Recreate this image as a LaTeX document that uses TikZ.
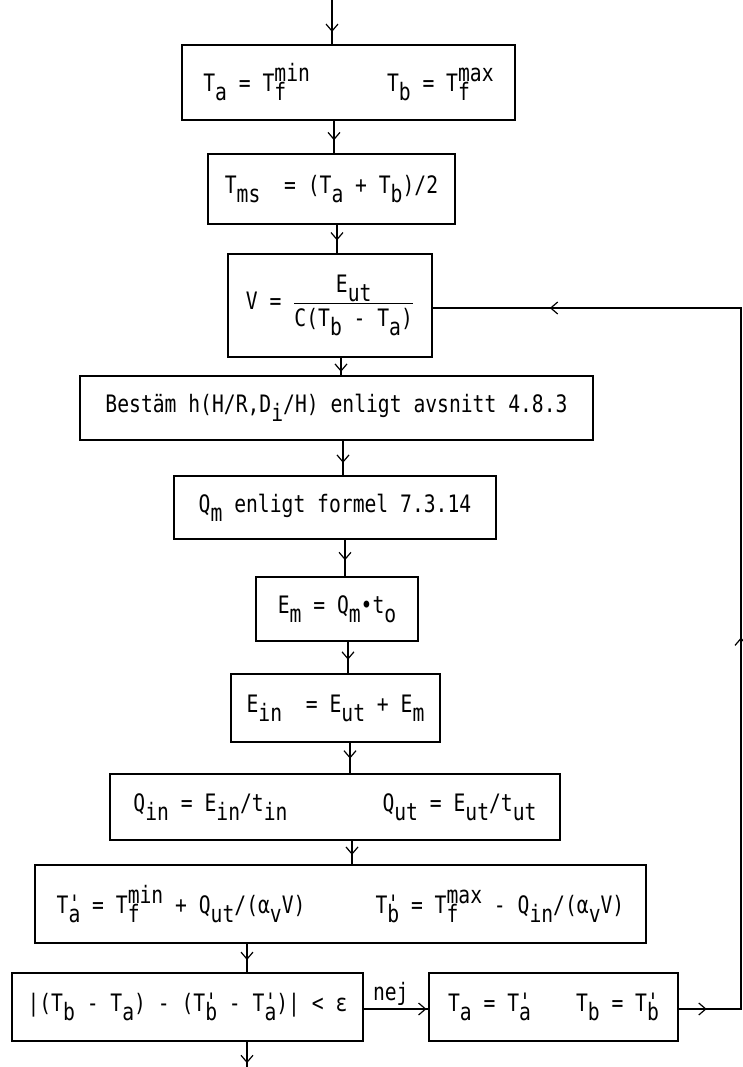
\documentclass[tikz,border=0pt]{standalone}
\usepackage{fontspec}
\newfontfamily\tw[FakeStretch=0.82]{DejaVu Sans Mono}
\usetikzlibrary{arrows.meta,decorations.markings}
\newcommand\lo[1]{\raisebox{-9pt}{#1}}
\newcommand\hi[1]{\raisebox{10pt}{#1}}
\newcommand\lohi[2]{\makebox[0pt][l]{\lo{#1}}\hi{#2}}
\newcommand\pr[1]{\makebox[0pt][l]{\lo{#1}}\raisebox{1pt}{'}}
\begin{document}
\begin{tikzpicture}[x=1pt,y=-1pt,
  box/.style={draw,line width=1.2pt,inner sep=0pt,align=center},
  lnk/.style={line width=1.2pt,line cap=rect},
  midarr/.style={decoration={markings,mark=at position #1 with {\arrow{Straight Barb[length=7pt,width=12pt]}}},postaction={decorate}},
  every node/.style={font=\tw\fontsize{24}{28}\selectfont}
]
\useasboundingbox (0,0) rectangle (742,1067);
% boxes
\node[box,minimum width=333pt,minimum height=75pt] (b1) at (348.5,82.5)
  {T\lo{a} = T\lohi{f}{min}\hspace{77pt}T\lo{b} = T\lohi{f}{max}};
\node[box,minimum width=247pt,minimum height=70pt] (b2) at (331.5,189)
  {T\lo{ms}\ \ = (T\lo{a} + T\lo{b})/2};
\node[box,minimum width=204pt,minimum height=103pt] (b3) at (330,305.5)
  {V = $\displaystyle\frac{\hbox{E\lo{ut}}}{\hbox{C(T\lo{b} - T\lo{a})}}$};
\node[box,minimum width=513pt,minimum height=64pt] (b4) at (336.5,408)
  {Bestäm h(H/R,D\lo{i}/H) enligt avsnitt 4.8.3};
\node[box,minimum width=322pt,minimum height=63pt] (b5) at (335,507.5)
  {Q\lo{m} enligt formel 7.3.14};
\node[box,minimum width=162pt,minimum height=64pt] (b6) at (337,609)
  {E\lo{m} = Q\lo{m}•t\lo{o}};
\node[box,minimum width=209pt,minimum height=68pt] (b7) at (335.5,708)
  {E\lo{in}\ \ = E\lo{ut} + E\lo{m}};
\node[box,minimum width=450pt,minimum height=66pt] (b8) at (335,807)
  {Q\lo{in} = E\lo{in}/t\lo{in}\hspace{95pt}Q\lo{ut} = E\lo{ut}/t\lo{ut}};
\node[box,minimum width=611pt,minimum height=78pt] (b9) at (340.5,904)
  {T\pr{a} = T\lohi{f}{min} + Q\lo{ut}/(α\lo{v}V)\hspace{70pt}T\pr{b} = T\lohi{f}{max} - Q\lo{in}/(α\lo{v}V)};
\node[box,minimum width=351pt,minimum height=68pt] (b10) at (187.5,1007)
  {|(T\lo{b} - T\lo{a}) - (T\pr{b} - T\pr{a})| < ε};
\node[box,minimum width=249pt,minimum height=68pt] (b11) at (553.5,1007)
  {T\lo{a} = T\pr{a}\hspace{45pt}T\lo{b} = T\pr{b}};
% connector x positions
\coordinate (a0) at (332,0);
\coordinate (a1) at (334,0);
\coordinate (a2) at (337,0);
\coordinate (a3) at (341,0);
\coordinate (a4) at (343,0);
\coordinate (a5) at (345,0);
\coordinate (a6) at (348,0);
\coordinate (a7) at (350,0);
\coordinate (a8) at (352,0);
\coordinate (a9) at (247,0);
\coordinate (ex) at (247,1067);
\coordinate (rx) at (741,1009);
\coordinate (ly) at (741,308);
\coordinate (ny) at (0,1009);
% connectors
\draw[lnk,midarr=0.72] (a0) -- (b1.north -| a0);
\draw[lnk,midarr=0.6] (b1.south -| a1) -- (b2.north -| a1);
\draw[lnk,midarr=0.55] (b2.south -| a2) -- (b3.north -| a2);
\draw[lnk,midarr=0.8] (b3.south -| a3) -- (b4.north -| a3);
\draw[lnk,midarr=0.64] (b4.south -| a4) -- (b5.north -| a4);
\draw[lnk,midarr=0.56] (b5.south -| a5) -- (b6.north -| a5);
\draw[lnk,midarr=0.57] (b6.south -| a6) -- (b7.north -| a6);
\draw[lnk,midarr=0.52] (b7.south -| a7) -- (b8.north -| a7);
\draw[lnk,midarr=0.6] (b8.south -| a8) -- (b9.north -| a8);
\draw[lnk,midarr=0.57] (b9.south -| a9) -- (b10.north -| a9);
\draw[lnk,midarr=0.85] (b10.south -| a9) -- (ex);
\draw[lnk,midarr=0.97] (b10.east |- ny) -- node[above=0pt,pos=0.42] {nej} (b11.west |- ny);
\draw[lnk,midarr=0.45] (b11.east |- ny) -- (rx);
\draw[lnk,midarr=0.53] (rx) -- (ly);
\draw[lnk,midarr=0.62] (ly) -- (b3.east |- ly);
\end{tikzpicture}
\end{document}
